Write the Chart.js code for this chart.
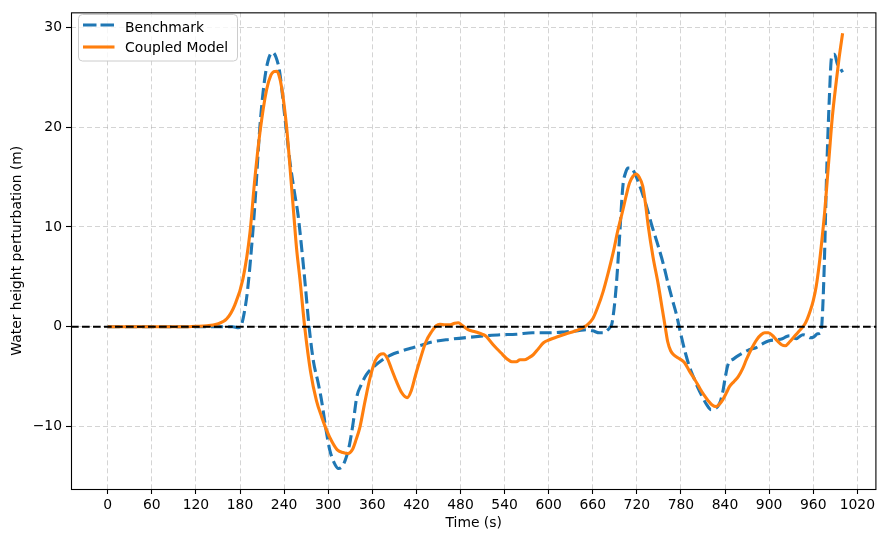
<!DOCTYPE html>
<html><head><meta charset="utf-8">
<script src="https://cdn.jsdelivr.net/npm/chart.js@4"></script>
<style>html,body{margin:0;padding:0;background:#fff}canvas{display:block}</style>
</head><body>
<canvas id="c" width="878" height="538"></canvas>
<script>
// ---- data ----
const seriesNames = ['Benchmark', 'Coupled Model'];
const xLabel = 'Time (s)';
const yLabel = 'Water height perturbation (m)';
const xTicks = [0,60,120,180,240,300,360,420,480,540,600,660,720,780,840,900,960,1020];
const yTicks = [-10,0,10,20,30];

const benchTime = [0,60,120,170,178,182,186,190,194,200,207,213,218,224,229,234,241,248,254,259,264,269,274,280,286,291,297,302,308,314,319,324,329,334,339,345,352,362,374,386,397,410,420,442,466,492,515,534,556,578,601,624,640,651,660,669,675,679,683,686,689,692,696,701,705,708,712,717,725,733,741,749,756,762,768,774,780,786,792,798,803,809,815,821,826,830,834,837,840,844,852,860,873,882,891,900,910,918,923,928,933,937,941,946,951,956,961,966,970,972,975,978,982,985,989,993,996,1000];
const benchHeight = [0,0,0,0,-0.1,0.2,1.5,3.5,6.5,12,20,24.5,26.6,27.5,27.0,25.5,21,16.5,13.5,11.2,7.8,4.0,0,-3.5,-5.5,-7.4,-10.3,-12.3,-13.6,-14.2,-14.0,-13.2,-11.8,-9.6,-7.0,-5.8,-4.8,-4.0,-3.3,-2.8,-2.5,-2.2,-2.0,-1.5,-1.25,-1.05,-0.9,-0.8,-0.75,-0.6,-0.6,-0.5,-0.4,-0.3,-0.4,-0.6,-0.6,-0.4,-0.1,0.3,1.8,4.1,8.4,14.1,15.5,15.9,15.9,15.4,13.9,12.1,10.0,8.1,6.3,4.5,2.8,1.2,-0.8,-2.6,-4.1,-5.2,-6.1,-7.0,-7.8,-8.3,-8.2,-8.0,-7.4,-6.5,-5.2,-3.8,-3.2,-2.8,-2.3,-2.1,-1.7,-1.4,-1.3,-1.2,-1.0,-0.9,-1.1,-1.2,-1.0,-0.8,-0.9,-1.1,-1.0,-0.7,-0.6,0.5,6,14.7,23,27.0,27.3,26.3,26.0,25.5];

const coupledTime = [0,60,100,120,135,148,162,173,184,193.5,200,207,216,222,226,230,233,236.6,243.4,248,253,257,261.5,268,276,284,291,298,305,312,320,327,333,338,343,350,357,364,370,375,380,386,393,400,407.5,413,419,425,433,440.6,447,452,459,466,472,477,483,491,500,508,514,520,527,535,543,550,556,561,567,573,579,586,593,601,612,624,635,643,651,660,667,674,681,688,694,701,706,710,715,719,723,728,732,735.5,742,749,755,759,762,766,771.5,778,785,792,799,806,812,817,822,828,833,837,842,846,852,858,864,869,876,883,889,894,899,905,911,917,922,928,934,940,948,952,956,960,964,968.6,972,975.5,979,982,986,991.4,995,1000];
const coupledHeight = [0,0,0,0.05,0.1,0.25,0.8,2.2,4.8,9.4,14.7,19.4,23.7,25.2,25.55,25.6,25.2,24.0,20,16.0,11.4,7.8,4.8,0,-4.5,-7.4,-9.0,-10.4,-11.5,-12.3,-12.6,-12.7,-12.3,-11.3,-10.1,-7.5,-5.1,-3.4,-2.8,-2.7,-3.1,-4.2,-5.5,-6.6,-7.1,-6.4,-4.8,-3.3,-1.5,-0.5,0.1,0.25,0.2,0.2,0.35,0.4,0.1,-0.3,-0.5,-0.7,-0.9,-1.4,-2.0,-2.6,-3.2,-3.5,-3.5,-3.3,-3.3,-3.1,-2.8,-2.2,-1.6,-1.3,-1.0,-0.7,-0.45,-0.2,0.1,0.8,2.0,3.5,5.4,7.5,9.6,11.7,13.3,14.4,15.1,15.3,15.0,14.1,12.2,10.1,7.0,4.3,1.6,-0.2,-1.5,-2.4,-2.9,-3.2,-3.6,-4.5,-5.3,-6.2,-6.9,-7.4,-7.8,-8.0,-7.7,-7.3,-6.6,-6.0,-5.5,-5.0,-4.2,-3.3,-2.2,-1.3,-0.8,-0.6,-0.6,-0.9,-1.4,-1.8,-1.9,-1.5,-1.0,-0.5,0.2,0.8,1.6,2.6,4.0,6.5,8.8,11.4,14.6,17.4,21.0,24.6,26.8,29.4];

const zeroLevel = 0;

// ---- styles ----
const FONT = 'DejaVu Sans';
const FS = 13.9;
const BLUE = '#1f77b4', ORANGE = '#ff7f0e';
const LW = 3.1;
const DASH = [12, 5.2];

Chart.defaults.font.family = FONT;
Chart.defaults.font.size = FS;
Chart.defaults.color = '#000';

const toXY = (xs, ys) => xs.map((x, i) => ({x: x, y: ys[i]}));
const fmt = v => v < 0 ? '\u2212' + Math.abs(v) : String(v);

const framePlugin = {
  id: 'frame',
  afterDatasetsDraw(chart) {
    const {ctx, chartArea: a, scales: {y}} = chart;
    const yy = y.getPixelForValue(zeroLevel);
    ctx.save();
    ctx.beginPath();
    ctx.rect(a.left, a.top, a.right - a.left, a.bottom - a.top);
    ctx.clip();
    ctx.strokeStyle = '#000';
    ctx.lineWidth = 2.1;
    ctx.setLineDash([7.7, 3.3]);
    ctx.beginPath();
    ctx.moveTo(a.left, yy);
    ctx.lineTo(a.right, yy);
    ctx.stroke();
    ctx.restore();
  },
  afterDraw(chart) {
    const {ctx, chartArea: a} = chart;
    ctx.save();
    // spines
    ctx.strokeStyle = '#000';
    ctx.lineWidth = 1.1;
    ctx.setLineDash([]);
    ctx.strokeRect(a.left + 0.5, a.top + 0.5, a.right - a.left - 1, a.bottom - a.top);
    // legend
    const bx = 78.5, by = 14.5, bw = 159, bh = 46.5, r = 4;
    ctx.beginPath();
    ctx.moveTo(bx + r, by);
    ctx.arcTo(bx + bw, by, bx + bw, by + bh, r);
    ctx.arcTo(bx + bw, by + bh, bx, by + bh, r);
    ctx.arcTo(bx, by + bh, bx, by, r);
    ctx.arcTo(bx, by, bx + bw, by, r);
    ctx.closePath();
    ctx.fillStyle = 'rgba(255,255,255,0.8)';
    ctx.fill();
    ctx.strokeStyle = '#cccccc';
    ctx.lineWidth = 1;
    ctx.stroke();
    const rows = [
      {name: seriesNames[0], color: BLUE, dash: [13.5, 4], ly: 25, ty: 31.5},
      {name: seriesNames[1], color: ORANGE, dash: [], ly: 47, ty: 52}
    ];
    rows.forEach(rw => {
      ctx.strokeStyle = rw.color;
      ctx.lineWidth = LW;
      ctx.setLineDash(rw.dash);
      ctx.beginPath();
      ctx.moveTo(83, rw.ly);
      ctx.lineTo(114.5, rw.ly);
      ctx.stroke();
      ctx.setLineDash([]);
      ctx.fillStyle = '#000';
      ctx.font = FS + 'px "' + FONT + '"';
      ctx.textBaseline = 'alphabetic';
      ctx.textAlign = 'left';
      ctx.fillText(rw.name, 125, rw.ty);
    });
    ctx.restore();
  }
};

new Chart(document.getElementById('c'), {
  type: 'line',
  data: {
    datasets: [
      {label: seriesNames[0], data: toXY(benchTime, benchHeight), borderColor: BLUE, borderWidth: LW,
       borderDash: DASH, pointRadius: 0, fill: false, cubicInterpolationMode: 'monotone', order: 2},
      {label: seriesNames[1], data: toXY(coupledTime, coupledHeight), borderColor: ORANGE, borderWidth: LW,
       pointRadius: 0, fill: false, cubicInterpolationMode: 'monotone', order: 1}
    ]
  },
  options: {
    responsive: false,
    animation: false,
    devicePixelRatio: 1,
    parsing: true,
    layout: {padding: {top: 8, right: 1, left: 0, bottom: 0}},
    plugins: {legend: {display: false}, tooltip: {enabled: false}},
    scales: {
      x: {
        type: 'linear', min: -50, max: 1046,
        afterBuildTicks: s => { s.ticks = xTicks.map(v => ({value: v})); },
        afterFit: s => { s.height = 49; },
        ticks: {autoSkip: false, maxRotation: 0, padding: 3, callback: v => fmt(v), font: {size: FS}},
        grid: {color: 'rgba(176,176,176,0.55)', lineWidth: 1, tickColor: '#000', tickLength: 5, tickWidth: 1.1},
        border: {display: false, dash: [5, 3]},
        title: {display: true, text: xLabel, font: {size: FS}, padding: {top: 0, bottom: 6}}
      },
      y: {
        type: 'linear', min: -16.25, max: 31.5,
        afterBuildTicks: s => { s.ticks = yTicks.map(v => ({value: v})); },
        afterFit: s => { s.width = 71; },
        ticks: {autoSkip: false, padding: 4, callback: v => fmt(v), font: {size: FS}},
        grid: {color: 'rgba(176,176,176,0.55)', lineWidth: 1, tickColor: '#000', tickLength: 5, tickWidth: 1.1},
        border: {display: false, dash: [5, 3]},
        title: {display: true, text: yLabel, font: {size: FS}, padding: {top: 9, bottom: 0}}
      }
    }
  },
  plugins: [framePlugin]
});
</script>
</body></html>
